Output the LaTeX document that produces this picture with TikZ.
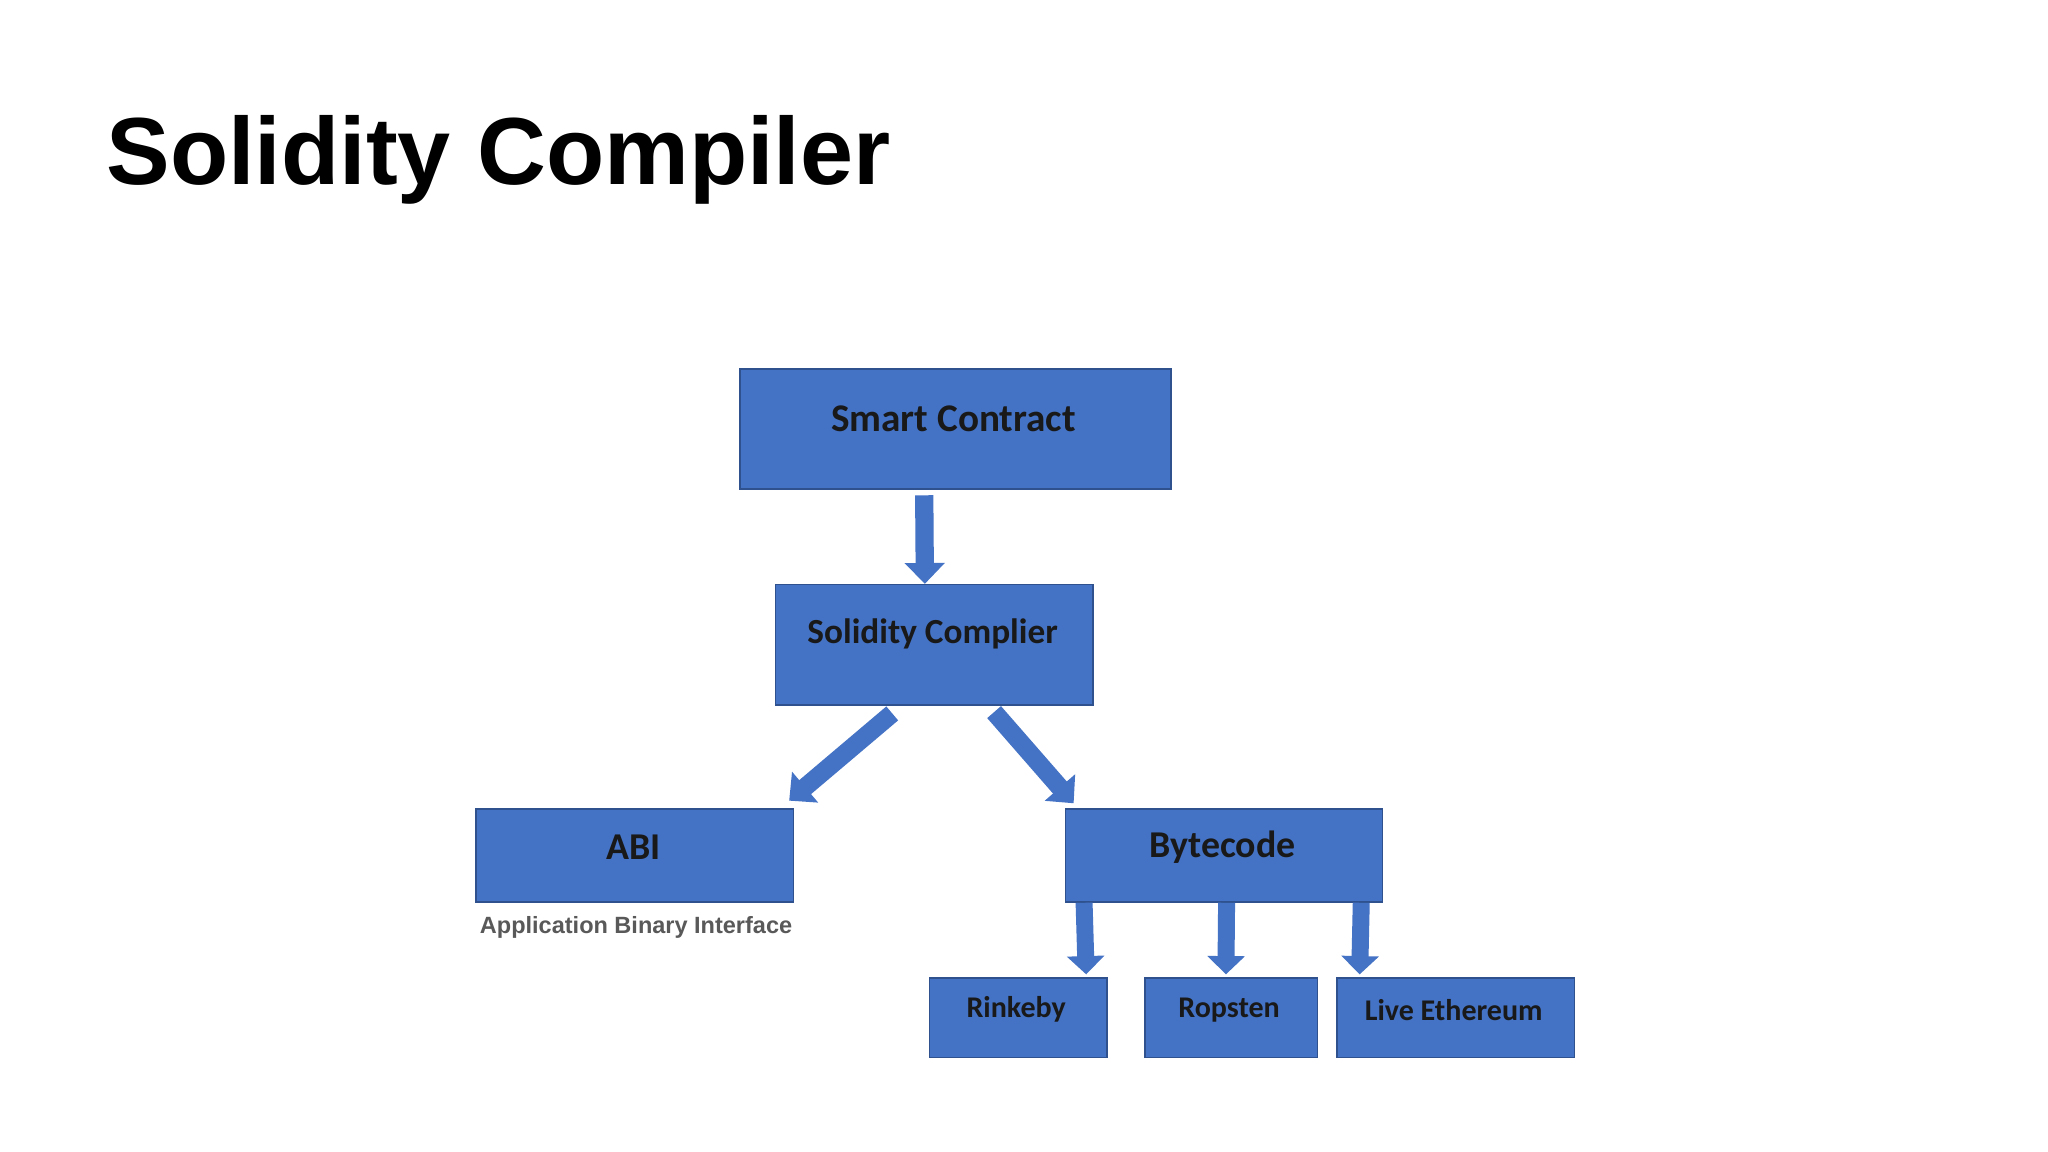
\documentclass[tikz,border=0pt]{standalone}
\usepackage{fontspec}
\setmainfont{Carlito}
\newfontfamily\helv{Liberation Sans}
\usetikzlibrary{arrows.meta,calc}
\definecolor{boxblue}{HTML}{4472C4}
\definecolor{boxedge}{HTML}{2F528F}
\begin{document}
\begin{tikzpicture}[x=1pt,y=-1pt,
  box/.style={draw=boxedge,line width=1.2pt,fill=boxblue,inner sep=0pt,anchor=north west},
  lbl/.style={font=\bfseries\fontsize{#1}{#1}\selectfont,text=black!90},
  blk/.style={draw=boxblue,line width=14pt,-{Triangle[width=30pt,length=16pt]}},
  blks/.style={draw=boxblue,line width=13pt,-{Triangle[width=28pt,length=14pt]}}]
\useasboundingbox[fill=white] (0,0) rectangle (1568,882);
\node[anchor=base west,font=\helv\bfseries\fontsize{73}{73}\selectfont] (title) at (78,141) {Solidity Compiler};
% boxes
\node[box,minimum width=330pt,minimum height=92pt] (sc) at (566,282) {};
\node[lbl=30] (sct) at (730,321) {Smart Contract};
\node[box,minimum width=243pt,minimum height=92pt] (comp) at (593,447) {};
\node[lbl=27] (compt) at (714,485) {Solidity Complier};
\node[box,minimum width=243pt,minimum height=71pt] (abi) at (364,619) {};
\node[lbl=29] (abit) at (485,649) {ABI};
\node[box,minimum width=243pt,minimum height=71pt] (byte) at (815,619) {};
\node[lbl=29] (bytet) at (936,649) {Bytecode};
\node[box,minimum width=136pt,minimum height=61pt] (rin) at (711,748) {};
\node[lbl=23] (rint) at (778,773) {Rinkeby};
\node[box,minimum width=132pt,minimum height=61pt] (rop) at (876,748) {};
\node[lbl=23] (ropt) at (941,773) {Ropsten};
\node[box,minimum width=182pt,minimum height=61pt] (live) at (1023,748) {};
\node[lbl=23] (livet) at (1113,773) {Live Ethereum};
\node[font=\helv\bfseries\fontsize{18}{18}\selectfont,text=black!65] (cap) at (487,710) {Application Binary Interface};
% arrows
\draw[blk] ($(sc.south)+(-24,4)$) -- ($(comp.north)+(-7,0)$);
\draw[blk] ($(comp.south)+(-32,6)$) -- ($(abi.north east)+(-4,-6)$);
\draw[blk] ($(comp.south)+(46,5)$) -- ($(byte.north west)+(7,-4)$);
\draw[blks] ($(byte.south west)+(15,0)$) -- ($(rin.north)+(52,-2)$);
\draw[blks] ($(byte.south)+(2,0)$) -- ($(rop.north)+(-4,-2)$);
\draw[blks] ($(byte.south east)+(-17,0)$) -- ($(live.north west)+(18,-2)$);
\end{tikzpicture}
\end{document}
